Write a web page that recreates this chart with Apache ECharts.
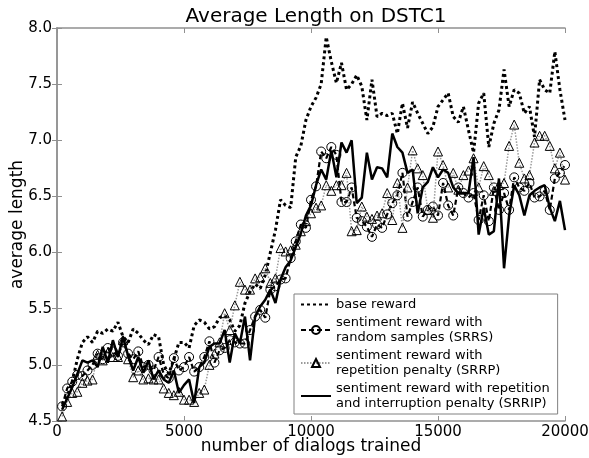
<!DOCTYPE html>
<html>
<head>
<meta charset="utf-8">
<script src="https://cdn.jsdelivr.net/npm/echarts@6/dist/echarts.min.js"></script>
<style>
  html, body { margin: 0; padding: 0; background: #fff; }
  #chart { width: 589px; height: 458px; }
</style>
</head>
<body>
<div id="chart"></div>
<script>
// values, one point every 200 dialogs (200 .. 20000)
const baseReward = [
  4.65, 4.72, 4.85, 5.05, 5.2, 5.25, 5.2, 5.3, 5.28, 5.32,
  5.3, 5.38, 5.25, 5.2, 5.32, 5.28, 5.22, 5.18, 5.27, 5.25,
  5.0, 4.92, 5.05, 5.2, 5.2, 5.15, 5.35, 5.4, 5.38, 5.32,
  5.34, 5.42, 5.44, 5.4, 5.3, 5.35, 5.55, 5.65, 5.72, 5.68,
  5.8, 6.0, 6.2, 6.47, 6.42, 6.4, 6.85, 6.95, 7.18, 7.3,
  7.38, 7.5, 7.92, 7.7, 7.51, 7.69, 7.45, 7.5, 7.58, 7.48,
  7.18, 7.54, 7.21, 7.24, 7.22, 7.24, 7.06, 7.33, 7.11, 7.34,
  7.24, 7.15, 7.06, 7.12, 7.3, 7.36, 7.42, 7.21, 7.16, 7.3,
  7.09, 6.89, 7.33, 7.42, 6.94, 7.15, 7.27, 7.63, 7.3, 7.45,
  7.42, 7.24, 7.3, 7.03, 7.54, 7.45, 7.42, 7.79, 7.45, 7.18
];
const srrs = [
  4.63, 4.79, 4.85, 4.91, 4.9, 4.95, 5.0, 5.1, 5.05, 5.15,
  5.12, 5.08, 5.2, 5.1, 5.05, 5.12, 4.98, 5.0, 4.95, 5.07,
  4.92, 4.88, 5.06, 4.95, 4.98, 5.07, 4.94, 4.98, 5.07, 5.21,
  5.02, 5.13, 5.15, 5.22, 5.2, 5.19, 5.19, 5.31, 5.43, 5.49,
  5.42, 5.67, 5.7, 5.76, 5.77, 5.95, 6.1, 6.25, 6.22, 6.47,
  6.59, 6.9, 6.84, 6.94, 6.87, 6.45, 6.45, 6.58, 6.31, 6.28,
  6.23, 6.14, 6.25, 6.22, 6.34, 6.44, 6.51, 6.71, 6.32, 6.45,
  6.58, 6.32, 6.38, 6.41, 6.33, 6.62, 6.42, 6.33, 6.58, 6.53,
  6.49, 6.53, 6.29, 6.51, 6.28, 6.58, 6.38, 6.53, 6.38, 6.67,
  6.58, 6.55, 6.62, 6.49, 6.5, 6.55, 6.38, 6.66, 6.71, 6.78
];
const srrp = [
  4.54, 4.67, 4.75, 4.76, 4.84, 4.86, 4.87, 5.09, 5.04, 5.11,
  5.07, 5.07, 5.22, 5.05, 4.89, 4.95, 4.87, 4.88, 4.87, 4.87,
  4.79, 4.75, 4.73, 4.76, 4.69, 4.69, 4.67, 4.75, 4.78, 5.0,
  5.1, 5.2, 5.46, 5.31, 5.53, 5.74, 5.67, 5.67, 5.77, 5.78,
  5.86, 5.73, 5.77, 6.04, 6.01, 6.02, 6.07, 6.19, 6.28, 6.35,
  6.4, 6.42, 6.6, 6.55, 6.6, 6.6, 6.71, 6.19, 6.2, 6.41,
  6.32, 6.3, 6.33, 6.35, 6.53, 6.29, 6.62, 6.22, 6.58, 6.91,
  6.75, 6.69, 6.38, 6.31, 6.9, 6.78, 6.58, 6.71, 6.56, 6.69,
  6.73, 6.84, 6.58, 6.77, 6.69, 6.55, 6.6, 6.62, 6.95, 7.14,
  6.8, 6.66, 6.69, 6.98, 7.04, 7.04, 6.95, 6.75, 6.89, 6.65
];
const srrip = [
  4.6, 4.7, 4.8, 4.92, 5.04, 5.02, 5.04, 4.98, 5.16, 5.02,
  5.22, 5.07, 5.25, 5.08, 4.95, 5.07, 4.93, 5.04, 4.87, 4.95,
  4.87, 4.84, 4.95, 4.75, 4.82, 4.87, 4.66, 4.98, 5.02, 5.16,
  5.19, 5.19, 5.31, 5.02, 5.28, 5.19, 5.43, 5.04, 5.43, 5.52,
  5.58, 5.67, 5.55, 5.76, 5.87, 5.93, 6.05, 6.17, 6.33, 6.42,
  6.6, 6.74, 6.65, 6.91, 6.67, 6.98, 6.89, 7.0, 6.44, 6.49,
  6.89, 6.65, 6.76, 6.75, 6.67, 7.06, 6.94, 6.89, 6.71, 6.74,
  6.35, 6.58, 6.63, 6.76, 6.67, 6.74, 6.71, 6.58, 6.53, 6.53,
  6.53, 6.85, 6.16, 6.4, 6.16, 6.19, 6.66, 5.86, 6.33, 6.6,
  6.51, 6.33, 6.51, 6.55, 6.58, 6.6, 6.4, 6.28, 6.46, 6.2
];
const seriesNames = [
  'base reward',
  'sentiment reward with\nrandom samples (SRRS)',
  'sentiment reward with\nrepetition penalty (SRRP)',
  'sentiment reward with repetition\nand interruption penalty (SRRIP)'
];
const xTicks = [0, 5000, 10000, 15000, 20000];
const yTicks = [4.5, 5.0, 5.5, 6.0, 6.5, 7.0, 7.5, 8.0];

const steps = baseReward.map((_, i) => (i + 1) * 200);
const pairs = arr => arr.map((v, i) => [steps[i], v]);

const chart = echarts.init(document.getElementById('chart'), null, { renderer: 'canvas' });

const font = 'DejaVu Sans';
const frame = '#909090';
const hidden = { opacity: 0 };

const option = {
  animation: false,
  textStyle: { fontFamily: font },
  title: {
    text: 'Average Length on DSTC1',
    left: 311,
    top: 2,
    textAlign: 'center',
    textStyle: { fontSize: 20, fontWeight: 'normal', color: '#000', fontFamily: font }
  },
  grid: { left: 57, right: 24, top: 28, bottom: 37, containLabel: false, outerBoundsMode: 'none' },
  legend: {
    orient: 'vertical',
    left: 294,
    top: 294,
    padding: [3, 8, 3, 6],
    itemGap: 3,
    itemWidth: 30,
    itemHeight: 10,
    borderColor: '#808080',
    borderWidth: 1,
    backgroundColor: '#fff',
    data: [
      { name: seriesNames[0], itemStyle: hidden },
      { name: seriesNames[1] },
      { name: seriesNames[2] },
      { name: seriesNames[3], itemStyle: hidden }
    ],
    textStyle: { fontSize: 13, lineHeight: 15, color: '#000', fontFamily: font }
  },
  xAxis: [{
    type: 'value',
    min: 0,
    max: 20000,
    interval: 5000,
    name: 'number of dialogs trained',
    nameLocation: 'middle',
    nameGap: 17,
    nameMoveOverlap: false,
    nameTextStyle: { fontSize: 17, color: '#000' },
    axisLine: { lineStyle: { color: frame, width: 1.5 } },
    axisTick: { inside: true, length: 5, lineStyle: { color: frame } },
    axisLabel: { color: '#000', fontSize: 15, margin: 4, formatter: v => String(v) },
    splitLine: { show: false }
  }, {
    type: 'value',
    position: 'top',
    min: 0,
    max: 20000,
    interval: 5000,
    axisLine: { show: true, lineStyle: { color: frame, width: 1.5 } },
    axisTick: { inside: true, length: 5, lineStyle: { color: frame } },
    axisLabel: { show: false },
    splitLine: { show: false }
  }],
  yAxis: [{
    type: 'value',
    min: 4.5,
    max: 8.0,
    interval: 0.5,
    name: 'average length',
    nameLocation: 'middle',
    nameGap: 31,
    nameMoveOverlap: false,
    nameTextStyle: { fontSize: 17, color: '#000' },
    axisLine: { show: true, lineStyle: { color: frame, width: 1.5 } },
    axisTick: { show: true, inside: true, length: 5, lineStyle: { color: frame } },
    axisLabel: { color: '#000', fontSize: 15, margin: 5, formatter: v => v.toFixed(1) },
    splitLine: { show: false }
  }, {
    type: 'value',
    position: 'right',
    min: 4.5,
    max: 8.0,
    interval: 0.5,
    axisLine: { show: true, lineStyle: { color: frame, width: 1.5 } },
    axisTick: { show: true, inside: true, length: 5, lineStyle: { color: frame } },
    axisLabel: { show: false },
    splitLine: { show: false }
  }],
  series: [
    {
      name: seriesNames[0],
      type: 'line',
      data: pairs(baseReward),
      showSymbol: false,
      symbol: 'none',
      lineStyle: { color: '#000', width: 3, type: [3, 3] },
      itemStyle: { color: '#000' }
    },
    {
      name: seriesNames[1],
      type: 'line',
      data: pairs(srrs),
      symbol: 'circle',
      symbolSize: 9,
      lineStyle: { color: '#000', width: 2.2, type: [5, 3] },
      itemStyle: { color: 'rgba(255,255,255,0)', borderColor: '#000', borderWidth: 1 }
    },
    {
      name: seriesNames[2],
      type: 'line',
      data: pairs(srrp),
      symbol: 'triangle',
      symbolSize: 9,
      lineStyle: { color: '#9a9a9a', width: 1.5, type: [1.5, 1.5] },
      itemStyle: { color: 'rgba(255,255,255,0)', borderColor: '#000', borderWidth: 1 }
    },
    {
      name: seriesNames[3],
      type: 'line',
      data: pairs(srrip),
      showSymbol: false,
      symbol: 'none',
      lineStyle: { color: '#000', width: 2.5 },
      itemStyle: { color: '#000' }
    }
  ]
};

chart.setOption(option);
</script>
</body>
</html>
